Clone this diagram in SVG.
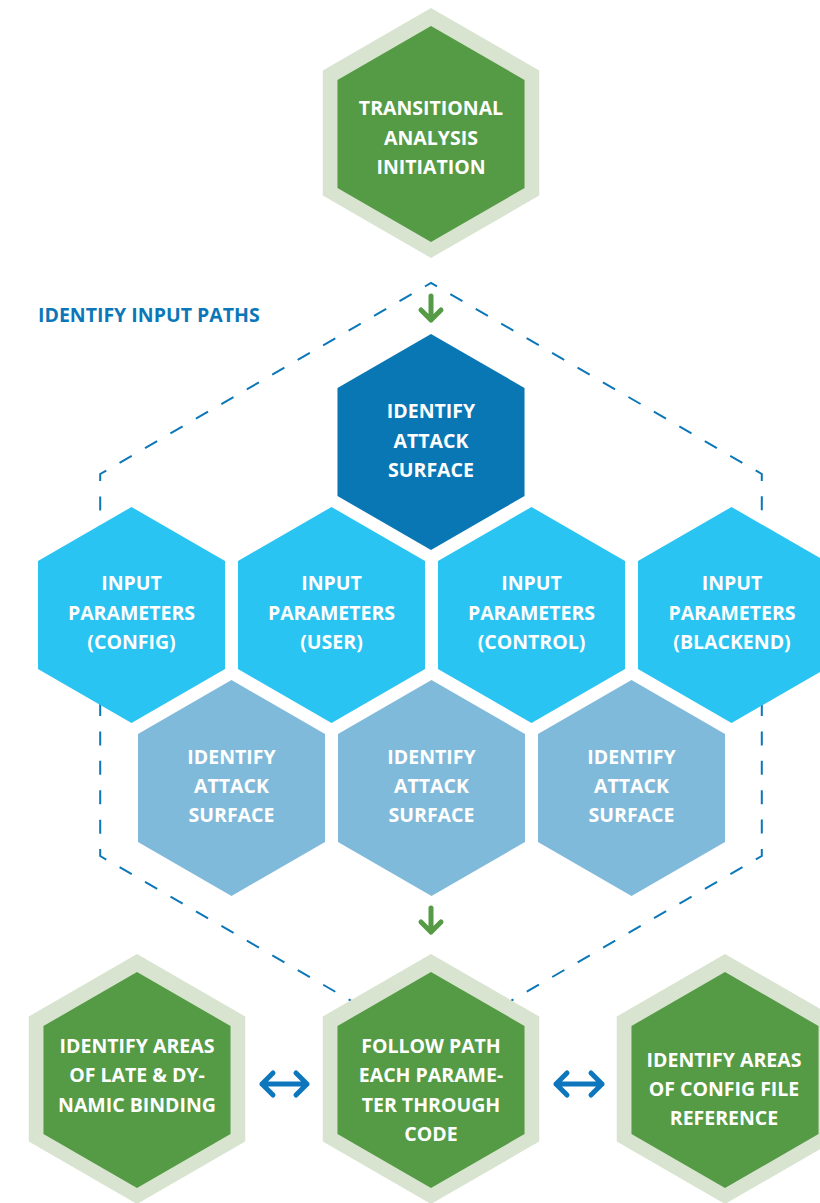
<svg xmlns="http://www.w3.org/2000/svg" xmlns:xlink="http://www.w3.org/1999/xlink" width="820" height="1203" viewBox="0 0 820 1203">
<style>
  .t { font-family: "Open Sans", "Liberation Sans", sans-serif; font-weight: 700; font-size: 19.5px; fill: #ffffff; text-anchor: middle; }
  .lbl { font-family: "Open Sans", "Liberation Sans", sans-serif; font-weight: 700; font-size: 19.5px; fill: #0B77B8; }
  .outer { fill: #D9E4D0; }
  .green { fill: #559B45; }
  .dark { fill: #0A77B5; }
  .cyan { fill: #29C4F2; }
  .light { fill: #80BADA; }
  .dash { fill: none; stroke: #0B77B8; stroke-width: 2; stroke-dasharray: 14 15.385; stroke-dashoffset: 7; }
  .garrow { fill: none; stroke: #559B45; stroke-width: 5; stroke-linecap: round; stroke-linejoin: round; }
  .barrow { fill: none; stroke: #0E76BC; stroke-width: 5; stroke-linecap: round; stroke-linejoin: round; }
</style>
<defs>
  <polygon id="hexIn" points="0,-108 93.53,-54 93.53,54 0,108 -93.53,54 -93.53,-54"/>
  <polygon id="hexOut" points="0,-125 108.25,-62.5 108.25,62.5 0,125 -108.25,62.5 -108.25,-62.5"/>
</defs>
<rect width="820" height="1203" fill="#ffffff"/>

<g id="connectors">
  <path class="dash" d="M431,283 L100.2,474 L100.2,856 L431,1047 L761.8,856 L761.8,474 Z"/>
  <path class="garrow" d="M431,296 V320 M421,310 L431,320 L441,310"/>
  <path class="garrow" d="M431,908 V932 M421,922 L431,932 L441,922"/>
  <path class="barrow" d="M262,1084 H307 M273,1073 L262,1084 L273,1095 M296,1073 L307,1084 L296,1095"/>
  <path class="barrow" d="M556,1084 H602 M567,1073 L556,1084 L567,1095 M591,1073 L602,1084 L591,1095"/>
</g>

<text id="section-label" class="lbl" x="38" y="322">IDENTIFY INPUT PATHS</text>

<g id="node-transitional">
  <use href="#hexOut" class="outer" x="431" y="133"/>
  <use href="#hexIn" class="green" x="431" y="134"/>
  <text class="t" x="431" y="114.5">TRANSITIONAL</text>
  <text class="t" x="431" y="144.5">ANALYSIS</text>
  <text class="t" x="431" y="173.5">INITIATION</text>
</g>

<g id="node-attack-surface-main">
  <use href="#hexIn" class="dark" x="431" y="442"/>
  <text class="t" x="431" y="417.5">IDENTIFY</text>
  <text class="t" x="431" y="447.5">ATTACK</text>
  <text class="t" x="431" y="476.5">SURFACE</text>
</g>

<g id="node-input-config">
  <use href="#hexIn" class="cyan" x="131.5" y="615"/>
  <text class="t" x="131.5" y="590">INPUT</text>
  <text class="t" x="131.5" y="619.5">PARAMETERS</text>
  <text class="t" x="131.5" y="649">(CONFIG)</text>
</g>
<g id="node-input-user">
  <use href="#hexIn" class="cyan" x="331.5" y="615"/>
  <text class="t" x="331.5" y="590">INPUT</text>
  <text class="t" x="331.5" y="619.5">PARAMETERS</text>
  <text class="t" x="331.5" y="649">(USER)</text>
</g>
<g id="node-input-control">
  <use href="#hexIn" class="cyan" x="531.5" y="615"/>
  <text class="t" x="531.5" y="590">INPUT</text>
  <text class="t" x="531.5" y="619.5">PARAMETERS</text>
  <text class="t" x="531.5" y="649">(CONTROL)</text>
</g>
<g id="node-input-blackend">
  <use href="#hexIn" class="cyan" x="731.5" y="615"/>
  <text class="t" x="732" y="590">INPUT</text>
  <text class="t" x="732" y="619.5">PARAMETERS</text>
  <text class="t" x="732" y="649">(BLACKEND)</text>
</g>

<g id="node-attack-surface-1">
  <use href="#hexIn" class="light" x="231.5" y="788"/>
  <text class="t" x="231.5" y="764">IDENTIFY</text>
  <text class="t" x="231.5" y="793">ATTACK</text>
  <text class="t" x="231.5" y="822">SURFACE</text>
</g>
<g id="node-attack-surface-2">
  <use href="#hexIn" class="light" x="431.5" y="788"/>
  <text class="t" x="431.5" y="764">IDENTIFY</text>
  <text class="t" x="431.5" y="793">ATTACK</text>
  <text class="t" x="431.5" y="822">SURFACE</text>
</g>
<g id="node-attack-surface-3">
  <use href="#hexIn" class="light" x="631.5" y="788"/>
  <text class="t" x="631.5" y="764">IDENTIFY</text>
  <text class="t" x="631.5" y="793">ATTACK</text>
  <text class="t" x="631.5" y="822">SURFACE</text>
</g>

<g id="node-late-binding">
  <use href="#hexOut" class="outer" x="137" y="1079"/>
  <use href="#hexIn" class="green" x="137" y="1080"/>
  <text class="t" x="137" y="1052.5">IDENTIFY AREAS</text>
  <text class="t" x="137" y="1082">OF LATE &amp; DY-</text>
  <text class="t" x="137" y="1111.5">NAMIC BINDING</text>
</g>
<g id="node-follow-path">
  <use href="#hexOut" class="outer" x="431" y="1079"/>
  <use href="#hexIn" class="green" x="431" y="1080"/>
  <text class="t" x="431" y="1052.5">FOLLOW PATH</text>
  <text class="t" x="431" y="1082">EACH PARAME-</text>
  <text class="t" x="431" y="1111.5">TER THROUGH</text>
  <text class="t" x="431" y="1141">CODE</text>
</g>
<g id="node-config-file">
  <use href="#hexOut" class="outer" x="725" y="1079"/>
  <use href="#hexIn" class="green" x="725" y="1080"/>
  <text class="t" x="724" y="1066.5">IDENTIFY AREAS</text>
  <text class="t" x="724" y="1096">OF CONFIG FILE</text>
  <text class="t" x="724" y="1125">REFERENCE</text>
</g>
</svg>
